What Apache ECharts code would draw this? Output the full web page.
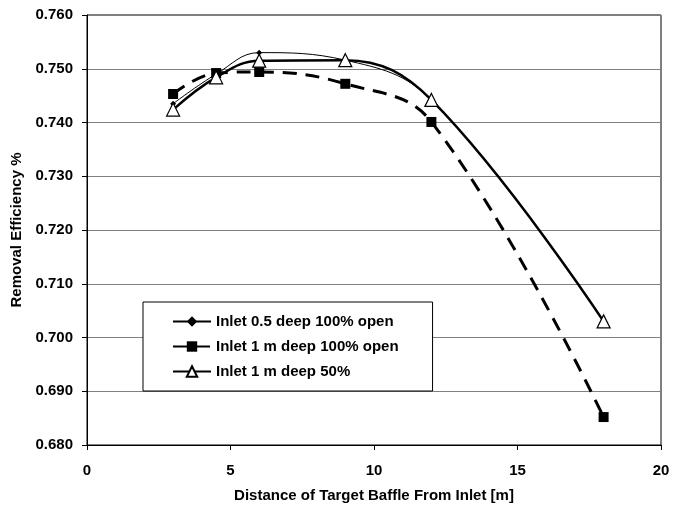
<!DOCTYPE html>
<html>
<head>
<meta charset="utf-8">
<script src="https://cdn.jsdelivr.net/npm/echarts@6/dist/echarts.min.js"></script>
<style>
  html, body { margin: 0; padding: 0; background: #fff; }
  #chart { width: 683px; height: 510px; }
</style>
</head>
<body>
<div id="chart"></div>
<script>
// Baffle distance from the inlet [m]
const distances = [3, 4.5, 6, 9, 12, 18];

// Removal efficiency for each inlet configuration
const inletHalfDeepFullOpen = [0.7435, 0.7490, 0.7530, 0.7516, 0.7442, 0.7030];
const inletOneDeepFullOpen  = [0.7453, 0.7492, 0.7494, 0.7472, 0.7401, 0.6852];
const inletOneDeepHalfOpen  = [0.7424, 0.7484, 0.7515, 0.7516, 0.7442, 0.7030];

const seriesNames = [
  'Inlet 0.5 deep 100% open',
  'Inlet 1 m deep 100% open',
  'Inlet 1 m deep 50%'
];

const yTicks = { min: 0.68, max: 0.76, step: 0.01 };
const xTicks = { min: 0, max: 20, step: 5 };

const FONT = '"Liberation Sans", Arial, sans-serif';

function pairs(xs, ys) {
  return xs.map((x, i) => [x, ys[i]]);
}

const chart = echarts.init(document.getElementById('chart'));

chart.setOption({
  animation: false,
  backgroundColor: '#fff',
  textStyle: { fontFamily: FONT },
  grid: {
    left: 87, right: 22, top: 15, bottom: 65,
    show: true, borderColor: '#000', borderWidth: 1
  },
  xAxis: {
    type: 'value',
    min: xTicks.min, max: xTicks.max, interval: xTicks.step,
    name: 'Distance of Target Baffle From Inlet [m]',
    nameLocation: 'middle',
    nameGap: 43,
    nameTextStyle: { fontFamily: FONT, fontWeight: 'bold', fontSize: 15, color: '#000' },
    axisLine: { lineStyle: { color: '#000', width: 1 } },
    axisTick: { show: true, length: 5, lineStyle: { color: '#000' } },
    axisLabel: { fontFamily: FONT, fontWeight: 'bold', fontSize: 15, color: '#000', margin: 18 },
    splitLine: { show: false }
  },
  yAxis: {
    type: 'value',
    min: yTicks.min, max: yTicks.max, interval: yTicks.step,
    name: 'Removal Efficiency %',
    nameLocation: 'middle',
    nameGap: 52,
    nameTextStyle: { fontFamily: FONT, fontWeight: 'bold', fontSize: 15, color: '#000' },
    axisLine: { show: true, lineStyle: { color: '#000', width: 1 } },
    axisTick: { show: true, length: 5, lineStyle: { color: '#000' } },
    axisLabel: {
      fontFamily: FONT, fontWeight: 'bold', fontSize: 15, color: '#000', margin: 14,
      formatter: v => v.toFixed(3)
    },
    splitLine: { show: true, lineStyle: { color: '#808080', width: 1 } }
  },
  legend: {
    orient: 'vertical',
    left: 143, top: 302,
    padding: [12, 34, 12, 29],
    itemGap: 10,
    itemWidth: 38,
    itemHeight: 13,
    backgroundColor: '#fff',
    borderColor: '#000',
    borderWidth: 1,
    textStyle: { fontFamily: FONT, fontWeight: 'bold', fontSize: 15, color: '#000' },
    data: seriesNames
  },
  series: [
    {
      name: seriesNames[0],
      type: 'line',
      data: pairs(distances, inletHalfDeepFullOpen),
      smooth: 0.4,
      symbol: 'diamond',
      symbolSize: 6,
      itemStyle: { color: '#000' },
      lineStyle: { color: '#000', width: 1 },
      z: 2
    },
    {
      name: seriesNames[1],
      type: 'line',
      data: pairs(distances, inletOneDeepFullOpen),
      smooth: 0.4,
      symbol: 'rect',
      symbolSize: 10,
      itemStyle: { color: '#000' },
      lineStyle: { color: '#000', width: 3, type: [14, 9] },
      z: 3
    },
    {
      name: seriesNames[2],
      type: 'line',
      data: pairs(distances, inletOneDeepHalfOpen),
      smooth: 0.4,
      symbol: 'triangle',
      symbolSize: 13,
      itemStyle: { color: '#fff', borderColor: '#000', borderWidth: 1.2 },
      lineStyle: { color: '#000', width: 2.5 },
      z: 4
    }
  ]
});
</script>
</body>
</html>
